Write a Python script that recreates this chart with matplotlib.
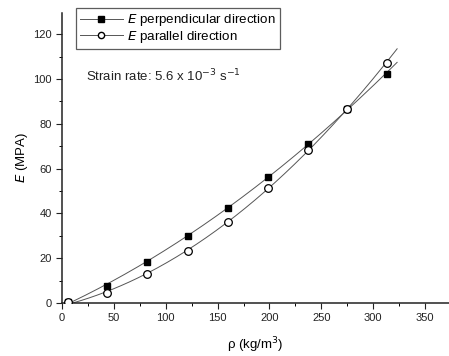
import numpy as np
import matplotlib
matplotlib.use('Agg')
import matplotlib.pyplot as plt
from matplotlib.ticker import MultipleLocator

plt.rcParams['font.family'] = ['Liberation Sans', 'DejaVu Sans']

# density (kg/m^3) and Young's modulus (MPa)
rho = [6, 43.7, 81.6, 121.2, 159.8, 198.3, 237.5, 274.8, 313]
E_perp = [0.5, 7.7, 18.2, 29.8, 42.5, 56.4, 71.0, 86.7, 102.2]
E_par = [0.3, 4.3, 12.8, 23.3, 36.3, 51.5, 68.3, 86.7, 107.1]

fig = plt.figure(figsize=(4.49, 3.56), dpi=100)
ax = fig.add_axes([0.138, 0.149, 0.862, 0.815])

# smooth fit curves through each series, run a bit past the last point
xs = np.linspace(rho[0] + 4, 323, 200)
for E in (E_perp, E_par):
    c = np.polyfit(rho, E, 2)
    ax.plot(xs, np.polyval(c, xs), color='#555555', lw=0.7, zorder=2)

ax.plot(rho, E_perp, ls='none', marker='s', ms=5, mfc='black', mec='black',
        zorder=3)
ax.plot(rho, E_par, ls='none', marker='o', ms=5.5, mfc='white', mec='black',
        mew=0.9, zorder=4)

# legend handles
h1, = ax.plot([], [], color='#555555', lw=0.7, marker='s', ms=4, mfc='black', mec='black')
h2, = ax.plot([], [], color='#555555', lw=0.7, marker='o', ms=4.5, mfc='white', mec='black')
leg = ax.legend([h1, h2], [r'$\it{E}$ perpendicular direction', r'$\it{E}$ parallel direction'],
                loc='upper left', bbox_to_anchor=(0.036, 1.016), fontsize=9.6,
                frameon=True, fancybox=False, edgecolor='#333333',
                handlelength=3.2, handletextpad=0.35, borderpad=0.3,
                labelspacing=0.05, borderaxespad=0)
leg.get_frame().set_linewidth(0.9)

ax.text(0.062, 0.765, r'Strain rate: 5.6 x 10$^{-3}$ s$^{-1}$', transform=ax.transAxes,
        fontsize=9.5, color='#222222')

ax.set_xlim(0, 373)
ax.set_ylim(0, 129.5)
ax.xaxis.set_major_locator(MultipleLocator(50))
ax.xaxis.set_minor_locator(MultipleLocator(25))
ax.yaxis.set_major_locator(MultipleLocator(20))
ax.yaxis.set_minor_locator(MultipleLocator(10))
ax.tick_params(which='major', length=4, width=0.8, labelsize=8, colors='#222222')
ax.tick_params(which='minor', length=2, width=0.7)

for s in ('top', 'right'):
    ax.spines[s].set_visible(False)
for s in ('left', 'bottom'):
    ax.spines[s].set_linewidth(1.1)
    ax.spines[s].set_color('#222222')

ax.set_xlabel(r'ρ (kg/m$^{3}$)', fontsize=9.5, labelpad=9)
ax.set_ylabel(r'$\it{E}$ (MPA)', fontsize=9.5, labelpad=2)

fig.savefig('out.png', dpi=100)
